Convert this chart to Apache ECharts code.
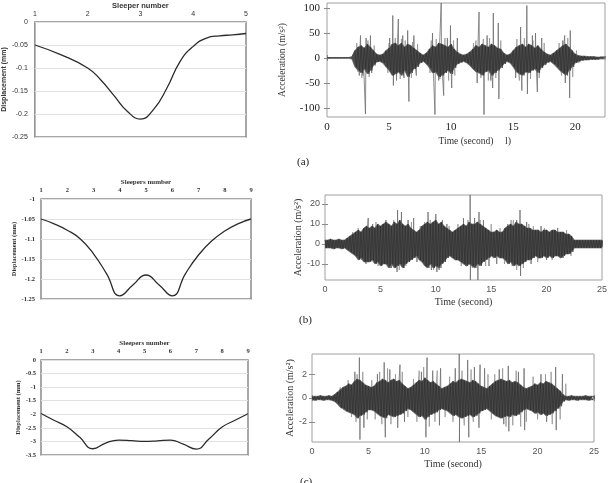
<!DOCTYPE html>
<html><head><meta charset="utf-8">
<script src="https://cdn.jsdelivr.net/npm/echarts@6/dist/echarts.min.js"></script>
<style>html,body{margin:0;padding:0;background:#fff}#c{width:612px;height:483px}</style>
</head><body><div id="c"></div>
<script>
// ---------- Left panels: displacement vs sleeper number ----------
const sleepersA = [1,1.5,2,2.25,2.5,2.75,3,3.25,3.5,3.75,4,4.25,4.5,4.75,5];
const dispA = [-0.05,-0.0715,-0.1,-0.126,-0.16,-0.194,-0.211,-0.19,-0.144,-0.086,-0.053,-0.035,-0.030,-0.028,-0.025];
const sleepersB = [1,1.5,2,2.5,3,3.5,4,4.5,5,5.5,6,6.5,7,7.5,8,8.5,9];
const dispB = [-1.05,-1.062,-1.078,-1.10,-1.137,-1.187,-1.242,-1.215,-1.19,-1.215,-1.242,-1.187,-1.14,-1.105,-1.08,-1.062,-1.05];
const sleepersC = [1,1.5,2,2.5,3,3.5,4,4.5,5,5.5,6,6.5,7,7.5,8,8.5,9];
const dispC = [-1.97,-2.22,-2.46,-2.85,-3.27,-3.06,-2.95,-2.97,-3.0,-2.98,-2.95,-3.1,-3.28,-2.9,-2.47,-2.22,-1.98];

// ---------- Right panels: acceleration time histories ----------
const stepT = 0.25;
// (a) envelope of the dense signal, sampled every 0.25 s from t=0
const accA_hi = [1,1,1,1,1,1,1,1, 2,15,22,25,20,28,22,15, 8,6,8,15,20,28,30,25, 30,22,28,25,20,15,10,6,
  10,18,25,22,30,28,25,22, 28,18,12,8,6,8,12,18, 25,22,28,25,22,28,25,20, 18,10,6,8,15,22,25,28,
  22,28,25,20,25,18,12,8, 6,10,15,20,25,28,22,15, 8,5,4,4,3,3,3,2, 2,2,2];
const accA_lo = [-1,-1,-1,-1,-1,-1,-1,-1, -2,-18,-25,-30,-22,-32,-25,-15, -8,-7,-10,-18,-25,-35,-32,-28,
  -35,-25,-38,-30,-22,-18,-10,-7, -12,-20,-30,-28,-38,-35,-30,-25, -32,-20,-12,-9,-7,-10,-15,-22,
  -28,-30,-35,-28,-25,-35,-30,-25, -20,-12,-7,-10,-18,-28,-32,-35, -28,-30,-25,-22,-30,-20,-14,-9,
  -7,-12,-18,-25,-30,-35,-25,-18, -10,-7,-5,-4,-4,-3,-3,-3, -2,-2,-2];
const accA_peaks = [[2.6,-35],[2.7,45],[2.9,-35],[3.1,-112],[3.15,40],[3.5,45],[3.6,-30],
  [5.05,40],[5.3,85],[5.35,-55],[5.6,-45],[5.75,78],[6.1,45],[6.2,-40],[6.5,55],[6.6,-87],[7.0,45],[7.2,-35],
  [8.5,50],[8.7,-113],[9.0,-45],[9.2,110],[9.4,-75],[9.7,40],[9.95,65],[10.05,-60],[10.5,40],
  [12.1,-50],[12.25,92],[12.65,-113],[12.9,45],[13.2,-45],[13.35,-60],[13.4,90],[13.8,70],[13.85,-82],
  [15.2,-40],[15.6,62],[15.7,-65],[16.1,105],[16.15,-72],[16.55,45],[16.8,50],[16.95,-68],[17.3,40],
  [19.0,35],[19.15,45],[19.2,-50],[19.55,-80],[19.6,55]];
const accA_minor = [[2.4,30],[2.5,-28],[2.8,-40],[3.3,35],[3.4,-38],[3.8,25],[4.9,-30],[5.0,30],[5.5,40],
  [5.9,-42],[6.0,38],[6.3,35],[6.8,-40],[6.9,32],[7.3,28],[8.3,-30],[8.4,35],[8.8,38],[9.1,-42],[9.5,40],
  [9.8,-45],[10.2,35],[10.3,-35],[11.8,30],[12.0,35],[12.4,-40],[12.6,38],[13.0,-45],[13.1,40],[13.6,-40],
  [14.0,35],[15.3,38],[15.5,-45],[15.9,40],[16.4,-42],[16.6,35],[17.1,-40],[17.5,30],[18.7,30],[18.9,-35],
  [19.4,40],[19.8,-38],[20.1,15],[20.3,-10]];

// (b)
const accB_hi = [2,2,2.5,2,2,2.5,2,2, 3,4,5,6,7,6,8,9, 8,9,8,10,9,10,11,10, 9,11,10,12,10,9,10,8,
  7,6,7,9,10,11,10,11, 12,10,11,9,8,7,6,7, 8,9,10,9,11,10,10,11, 10,9,8,7,6,6,7,6,
  6,8,9,10,9,11,10,10, 9,8,8,7,7,7,6,7, 7,6,7,7,6,6,6,5, 5,4,2,2,2,2,2,2, 2,2,2,2,2];
const accB_lo = [-2,-2,-2,-2.5,-2,-2,-2.5,-2, -3,-4,-5,-6,-8,-7,-9,-9, -9,-8,-10,-9,-11,-10,-10,-12,
  -10,-12,-11,-10,-12,-10,-9,-8, -7,-6,-8,-9,-11,-12,-10,-12, -11,-12,-10,-9,-7,-6,-7,-8,
  -8,-9,-10,-11,-10,-11,-12,-10, -11,-9,-8,-7,-6,-7,-6,-7, -7,-8,-10,-9,-11,-10,-11,-10,
  -9,-8,-8,-7,-6,-7,-7,-6, -7,-6,-7,-6,-6,-7,-6,-5, -5,-4,-2,-2,-2,-2,-2,-2, -2,-2,-2,-2,-2];
const accB_peaks = [[3.7,-10],[3.9,13],[4.3,10],[5.5,12],[6.0,-12],[6.5,-14],[6.55,17],[6.9,16],[7.1,-12],
  [7.5,12],[8.0,13],[8.3,-9],[9.3,16],[9.6,-13],[10.0,15],[10.1,-14],[10.3,-13],[10.6,12],[11.0,10],
  [12.5,13],[12.7,-11],[13.1,24.5],[13.12,-18],[13.5,13],[13.8,-18],[13.9,16],[14.3,12],[14.8,-11],
  [15.5,-10],[16.5,10],[16.9,-11],[17.3,12],[17.6,17],[17.65,-16],[18.2,11],[18.6,-10],[19.5,9],
  [20.0,-8],[21.0,8],[21.5,-7]];
const accB_minor = [[2.5,6],[3.0,8],[3.3,-8],[4.6,11],[4.8,-11],[5.2,10],[5.8,-12],[6.2,12],[6.7,-13],
  [7.3,-11],[7.8,11],[8.6,9],[8.9,-10],[9.0,11],[9.5,12],[9.8,-13],[10.5,-12],[11.2,9],[12.0,10],
  [12.3,-11],[12.9,12],[13.3,-12],[14.0,12],[14.5,-11],[15.0,10],[15.8,8],[16.2,-10],[16.8,12],[17.0,12],
  [17.3,-13],[17.9,-12],[18.4,10],[18.8,9],[19.2,-9],[19.8,8],[20.5,-8],[20.8,7],[21.8,7],[22.2,-6]];

// (c)
const accC_hi = [.15,.15,.15,.2,.15,.15,.2,.15, .3,.5,.7,.9,1.0,1.2,1.1,1.4, 1.6,1.5,1.3,1.1,1.0,0.9,1.0,1.3,
  1.4,1.6,1.5,1.3,1.5,1.6,1.4,1.5, 1.2,1.0,0.8,0.9,1.1,1.3,1.5,1.4, 1.7,1.5,1.3,1.4,1.2,1.0,0.8,0.9,
  1.0,1.2,1.4,1.3,1.5,1.6,1.5,1.4, 1.3,1.5,1.4,1.2,1.0,0.9,0.8,1.0, 1.2,1.4,1.5,1.6,1.5,1.4,1.5,1.3,
  1.4,1.3,1.1,0.9,0.8,0.9,1.0,1.2, 1.1,1.3,1.2,1.4,1.3,1.2,1.0,0.8, 0.6,0.3,.15,.15,.2,.15,.15,.15,
  .15,.2,.15,.15,.15];
const accC_lo = [-.15,-.2,-.15,-.15,-.2,-.15,-.15,-.2, -.3,-.5,-.8,-.9,-1.1,-1.2,-1.3,-1.4,
  -1.7,-1.5,-1.4,-1.2,-1.0,-1.0,-1.1,-1.3, -1.5,-1.6,-1.7,-1.4,-1.5,-1.6,-1.5,-1.4,
  -1.3,-1.1,-0.9,-1.0,-1.2,-1.4,-1.6,-1.5, -1.8,-1.6,-1.4,-1.3,-1.2,-1.0,-0.9,-1.0,
  -1.1,-1.3,-1.5,-1.4,-1.6,-1.7,-1.6,-1.5, -1.4,-1.6,-1.5,-1.3,-1.1,-1.0,-0.9,-1.1,
  -1.3,-1.5,-1.6,-1.7,-1.6,-1.5,-1.6,-1.4, -1.5,-1.4,-1.2,-1.0,-0.9,-1.0,-1.1,-1.3,
  -1.2,-1.4,-1.3,-1.5,-1.4,-1.3,-1.1,-0.9, -0.7,-0.3,-.15,-.2,-.15,-.15,-.2,-.15, -.15,-.15,-.2,-.15,-.15];
const accC_peaks = [[3.8,2.2],[4.2,3.4],[4.25,-3.5],[4.6,-2.5],[5.8,2.0],[6.4,3.0],[6.5,-3.3],[6.9,2.4],
  [7.6,-2.5],[7.8,2.8],[8.2,-2.0],[9.7,2.2],[10.1,-3.3],[10.2,3.4],[10.7,2.3],[11.3,-2.3],[11.4,2.5],
  [12.7,2.5],[13.05,3.7],[13.07,-3.7],[13.8,3.2],[13.9,-3.3],[14.4,2.6],[14.8,-2.5],[14.9,2.8],[15.3,2.5],
  [16.6,2.4],[17.0,-2.2],[17.4,2.7],[17.45,-2.8],[18.3,2.2],[18.8,2.5],[18.85,-2.7],[20.3,2.0],[20.8,-2.0],
  [21.6,2.6],[21.65,-2.7],[22.2,2.0]];
const accC_minor = [[2.5,0.9],[2.8,-1.0],[3.2,1.5],[3.5,-1.6],[3.9,-2.0],[4.0,2.0],[4.5,2.2],[4.9,-1.8],
  [5.3,1.5],[5.6,-1.8],[6.0,2.2],[6.2,-2.2],[6.7,2.5],[7.0,-2.2],[7.4,2.0],[8.0,2.2],[8.5,-1.6],[9.0,1.6],
  [9.3,-2.0],[9.5,2.3],[9.9,2.6],[10.4,-2.4],[10.9,-2.0],[11.1,2.3],[11.8,-1.6],[12.2,1.8],[12.5,-2.0],
  [13.3,2.3],[13.5,-2.3],[14.1,2.4],[14.3,-2.0],[15.6,2.0],[15.9,-1.8],[16.2,2.0],[16.9,2.5],[17.2,-2.4],
  [17.8,-2.3],[18.1,2.3],[18.5,-2.4],[19.0,-2.0],[19.6,1.8],[20.0,-1.8],[20.7,2.0],[21.2,2.2],[21.3,-2.2],
  [22.0,-1.8],[22.5,1.2]];

const SANS = 'Liberation Sans, Arial, sans-serif';
const SERIF = 'Liberation Serif, Times New Roman, serif';

function timed(vals){ return vals.map((v,i)=>[i*stepT, v]); }
function spikeLine(sp){
  const s = sp.slice().sort((a,b)=>a[0]-b[0]);
  const out = [];
  s.forEach(([t,v]) => { out.push([t-0.03,0],[t,v],[t+0.03,0]); });
  return out;
}
function zigzag(hi, lo){
  const out = [];
  hi.forEach((h,i)=>{ out.push([i*stepT, h]); out.push([i*stepT + stepT/2, lo[i]]); });
  return out;
}
function pairs(xs, ys){ return xs.map((x,i)=>[x, ys[i]]); }

const grids = [
  {left:30, top:22, width:216, height:115},
  {left:327, top:3, width:278, height:114},
  {left:41, top:199, width:210, height:100},
  {left:325, top:195, width:277, height:85},
  {left:41, top:360, width:207, height:95},
  {left:312, top:354, width:282, height:88}
].map((g,i)=>Object.assign(g, {show:true, borderColor: (i%2===0)?'#8a8a8a':'#a0a0a0', borderWidth:(i%2===0)?1.5:1, backgroundColor:'transparent'}));

const xAxes = [], yAxes = [], series = [];

function leftPanel(gi, xs, ys, xmax, ymin, ymax, yint, xName, yName, fam, bold, fs, nameFs, opts){
  xAxes.push({gridIndex:gi, type:'value', position:'top', min:1, max:xmax, interval:1,
    axisLine:{show:false}, axisTick:{show:false}, splitLine:{show:false},
    axisLabel:{fontSize:fs, color:'#333', margin:opts.xm, fontFamily:fam, fontWeight:bold},
    name:xName, nameLocation:'middle', nameGap:opts.xg,
    nameTextStyle:{fontSize:nameFs, fontWeight:'bold', color:'#333', fontFamily:fam}});
  yAxes.push({gridIndex:gi, type:'value', min:ymin, max:ymax, interval:yint,
    axisLine:{show:false}, axisTick:{show:false},
    splitLine:{lineStyle:{color:'#e2e2e2', width:1}},
    axisLabel:{fontSize:fs, color:'#333', margin:opts.ym, fontFamily:fam, fontWeight:bold},
    name:yName, nameLocation:'middle', nameGap:opts.yg, nameRotate:90,
    nameTextStyle:{fontSize:nameFs-0.5, fontWeight:'bold', color:'#333', fontFamily:fam}});
  series.push({type:'line', xAxisIndex:xAxes.length-1, yAxisIndex:yAxes.length-1,
    data:pairs(xs, ys), smooth:0.5, showSymbol:false, symbol:'none',
    lineStyle:{color:'#2b2b2b', width:1.3}, animation:false});
}

function rightPanel(gi, xmax, xTicks, ymin, ymax, yTicks, hi, lo, peaks, minor, o){
  const tickStyle = {show:true, inside:true, length:3, lineStyle:{color:'#8a8a8a'}};
  xAxes.push({gridIndex:gi, type:'value', position:'bottom', min:0, max:xmax,
    axisLine:{show:false}, splitLine:{show:false},
    axisTick:Object.assign({customValues:xTicks}, tickStyle),
    axisLabel:{customValues:xTicks, fontSize:o.fs, color:o.lc, margin:o.xm, fontFamily:o.lf},
    name:'Time (second)', nameLocation:'middle', nameGap:o.xg,
    nameTextStyle:{fontSize:o.nfs, color:'#333', fontFamily:SERIF}});
  const xi = xAxes.length-1;
  xAxes.push({gridIndex:gi, type:'value', position:'top', min:0, max:xmax,
    axisLine:{show:false}, splitLine:{show:false}, axisLabel:{show:false},
    axisTick:Object.assign({customValues:xTicks}, tickStyle)});
  yAxes.push({gridIndex:gi, type:'value', position:'left', min:ymin, max:ymax,
    axisLine:{show:false}, splitLine:{show:false},
    axisTick:Object.assign({customValues:yTicks}, tickStyle),
    axisLabel:{customValues:yTicks, fontSize:o.fs, color:o.lc, margin:o.ym, fontFamily:o.lf},
    name:'Acceleration (m/s²)', nameLocation:'middle', nameGap:o.yg, nameRotate:90,
    nameTextStyle:{fontSize:o.nfs, color:'#333', fontFamily:SERIF}});
  const yi = yAxes.length-1;
  yAxes.push({gridIndex:gi, type:'value', position:'right', min:ymin, max:ymax,
    axisLine:{show:false}, splitLine:{show:false}, axisLabel:{show:false},
    axisTick:Object.assign({customValues:yTicks}, tickStyle)});
  series.push({type:'line', xAxisIndex:xi, yAxisIndex:yi, data:spikeLine(minor),
    showSymbol:false, symbol:'none', lineStyle:{color:'#8c8c8c', width:0.7}, animation:false, z:2});
  series.push({type:'line', xAxisIndex:xi, yAxisIndex:yi, data:spikeLine(peaks),
    showSymbol:false, symbol:'none', lineStyle:{color:'#707070', width:0.8}, animation:false, z:2});
  [hi, lo].forEach(arr => {
    series.push({type:'line', xAxisIndex:xi, yAxisIndex:yi, data:timed(arr),
      showSymbol:false, symbol:'none', lineStyle:{color:'#6a6a6a', width:0.7},
      areaStyle:{color:'#4a4a4a', opacity:1, origin:0}, animation:false, z:3});
  });
  series.push({type:'line', xAxisIndex:xi, yAxisIndex:yi, data:zigzag(hi, lo),
    showSymbol:false, symbol:'none', lineStyle:{color:'#2e2e2e', width:0.6}, animation:false, z:4});
}

leftPanel(0, sleepersA, dispA, 5, -0.25, 0, 0.05, 'Sleeper number', 'Displacement (mm)', SANS, 'normal', 7, 7.5,
  {xm:4, xg:12, ym:7, yg:22});
rightPanel(1, 22.4, [0,5,10,15,20], -118, 110, [-100,-50,0,50,100], accA_hi, accA_lo, accA_peaks, accA_minor,
  {fs:11, lc:'#222', lf:SERIF, xm:5, xg:19, ym:7, yg:40, nfs:9.5});
leftPanel(2, sleepersB, dispB, 9, -1.25, -1, 0.05, 'Sleepers number', 'Displacement (mm)', SERIF, 'bold', 6.5, 7,
  {xm:5, xg:11, ym:6, yg:21});
rightPanel(3, 25, [0,5,10,15,20,25], -18, 24.5, [-10,0,10,20], accB_hi, accB_lo, accB_peaks, accB_minor,
  {fs:9, lc:'#555', lf:SANS, xm:5, xg:17, ym:5, yg:17, nfs:10});
leftPanel(4, sleepersC, dispC, 9, -3.5, 0, 0.5, 'Sleepers number', 'Displacement (mm)', SERIF, 'bold', 6.5, 7,
  {xm:5, xg:10, ym:5, yg:17});
rightPanel(5, 25, [0,5,10,15,20,25], -3.7, 3.7, [-2,0,2], accC_hi, accC_lo, accC_peaks, accC_minor,
  {fs:9, lc:'#555', lf:SANS, xm:5, xg:17, ym:5, yg:13, nfs:10});

const chart = echarts.init(document.getElementById('c'), null, {renderer:'canvas'});
chart.setOption({
  animation:false,
  backgroundColor:'#fff',
  grid:grids, xAxis:xAxes, yAxis:yAxes, series:series,
  graphic:[
    {type:'text', left:297, top:157, style:{text:'(a)', font:'11px Liberation Serif', fill:'#222'}},
    {type:'text', left:299, top:315, style:{text:'(b)', font:'11px Liberation Serif', fill:'#222'}},
    {type:'text', left:300, top:477, style:{text:'(c)', font:'11px Liberation Serif', fill:'#222'}},
    {type:'text', left:505, top:136, style:{text:'l)', font:'10px Liberation Serif', fill:'#333'}}
  ]
});
</script></body></html>
